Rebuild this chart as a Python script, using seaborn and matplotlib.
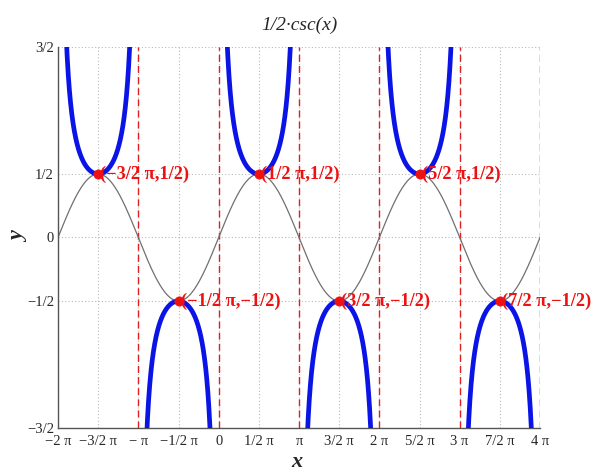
import numpy as np
import pandas as pd
import matplotlib
matplotlib.use("Agg")
import matplotlib.pyplot as plt
import seaborn as sns

# ---- data ----
x_ticks = [-2, -1.5, -1, -0.5, 0, 0.5, 1, 1.5, 2, 2.5, 3, 3.5, 4]  # multiples of pi
x_tick_labels = ["\u22122 \u03c0", "\u22123/2 \u03c0", "\u2212 \u03c0", "\u22121/2 \u03c0", "0",
                 "1/2 \u03c0", "\u03c0", "3/2 \u03c0", "2 \u03c0", "5/2 \u03c0", "3 \u03c0",
                 "7/2 \u03c0", "4 \u03c0"]
y_ticks = [-1.5, -0.5, 0, 0.5, 1.5]
y_tick_labels = ["\u22123/2", "\u22121/2", "0", "1/2", "3/2"]
asymptotes = [-1, 0, 1, 2, 3, 4]  # multiples of pi
point_x = [-1.5, -0.5, 0.5, 1.5, 2.5, 3.5]  # multiples of pi
point_y = [0.5, -0.5, 0.5, -0.5, 0.5, -0.5]
point_labels = ["(\u22123/2 \u03c0,1/2)", "(\u22121/2 \u03c0,\u22121/2)", "(1/2 \u03c0,1/2)",
                "(3/2 \u03c0,\u22121/2)", "(5/2 \u03c0,1/2)", "(7/2 \u03c0,\u22121/2)"]
amp = 0.5
intervals = [(-2, -1), (-1, 0), (0, 1), (1, 2), (2, 3), (3, 4)]

# ---- build curves ----
rows = []
for k, (a, b) in enumerate(intervals):
    xs = np.linspace(a * np.pi + 1e-3, b * np.pi - 1e-3, 800)
    ys = amp / np.sin(xs)
    m = np.abs(ys) <= 1.6
    for xv, yv in zip(xs[m], ys[m]):
        rows.append((k, xv, yv))
csc_df = pd.DataFrame(rows, columns=["seg", "x", "y"])
xs_all = np.linspace(-2 * np.pi, 4 * np.pi, 1200)
sin_df = pd.DataFrame({"x": xs_all, "y": amp * np.sin(xs_all)})
pts_df = pd.DataFrame({"x": np.array(point_x) * np.pi, "y": point_y})

sns.set_style("white")
plt.rcParams["font.family"] = ["Liberation Serif", "DejaVu Serif"]

fig = plt.figure(figsize=(6.12, 4.75), dpi=100)
ax = fig.add_axes([58 / 612, 47 / 475, (540 - 58) / 612, (428 - 47) / 475])

xmin, xmax = -2 * np.pi, 4 * np.pi
ax.set_xlim(xmin, xmax)
ax.set_ylim(-1.5, 1.5)

# grid
for t in x_ticks:
    ax.axvline(t * np.pi, color="#b8b8b8", lw=0.8, ls=(0, (1, 2)), zorder=0)
for t in y_ticks:
    ax.axhline(t, color="#b8b8b8", lw=0.8, ls=(0, (1, 2)), zorder=0)

# asymptotes
for a in asymptotes:
    ax.axvline(a * np.pi, color="#e02020", lw=1.0, ls=(0, (5, 3)), zorder=1)

sns.lineplot(data=sin_df, x="x", y="y", color="#707070", lw=0.9, ax=ax, zorder=2)
sns.lineplot(data=csc_df, x="x", y="y", units="seg", estimator=None, sort=False,
             color="#0a14e6", lw=3.4, ax=ax, zorder=3)
sns.scatterplot(data=pts_df, x="x", y="y", color="#ee1111", s=45, edgecolor="#ee1111",
                linewidth=0.5, ax=ax, zorder=4)

for px, py, lab in zip(point_x, point_y, point_labels):
    ax.text(px * np.pi + 0.08, py, lab, color="#ee1111", fontsize=13.2, fontweight="bold",
            va="center", ha="left", zorder=5)

ax.set_xticks([t * np.pi for t in x_ticks])
ax.set_xticklabels(x_tick_labels)
ax.set_yticks(y_ticks)
ax.set_yticklabels(y_tick_labels)
ax.tick_params(axis="both", direction="in", length=4, color="#555555", labelsize=10.5)
ax.tick_params(axis="x", pad=5)
ax.tick_params(axis="y", pad=3)

for s in ["top", "right"]:
    ax.spines[s].set_visible(False)
for s in ["left", "bottom"]:
    ax.spines[s].set_color("#555555")
    ax.spines[s].set_linewidth(1.0)

ax.set_xlabel("x", fontsize=16, fontweight="bold", style="italic")
ax.xaxis.label.set_va("center")
ax.xaxis.label.set_ha("center")
ax.xaxis.set_label_coords((297 - 58) / (540 - 58), -(462 - 428) / (428 - 47))
ax.set_ylabel("y", fontsize=16, fontweight="bold", style="italic", rotation=90)
ax.yaxis.label.set_va("center")
ax.yaxis.label.set_ha("center")
ax.yaxis.set_label_coords(-(58 - 19) / (540 - 58), 0.5)
ax.set_title("1/2\u00b7csc(x)", fontsize=14, style="italic", pad=12)

fig.savefig("out.png", dpi=100)
